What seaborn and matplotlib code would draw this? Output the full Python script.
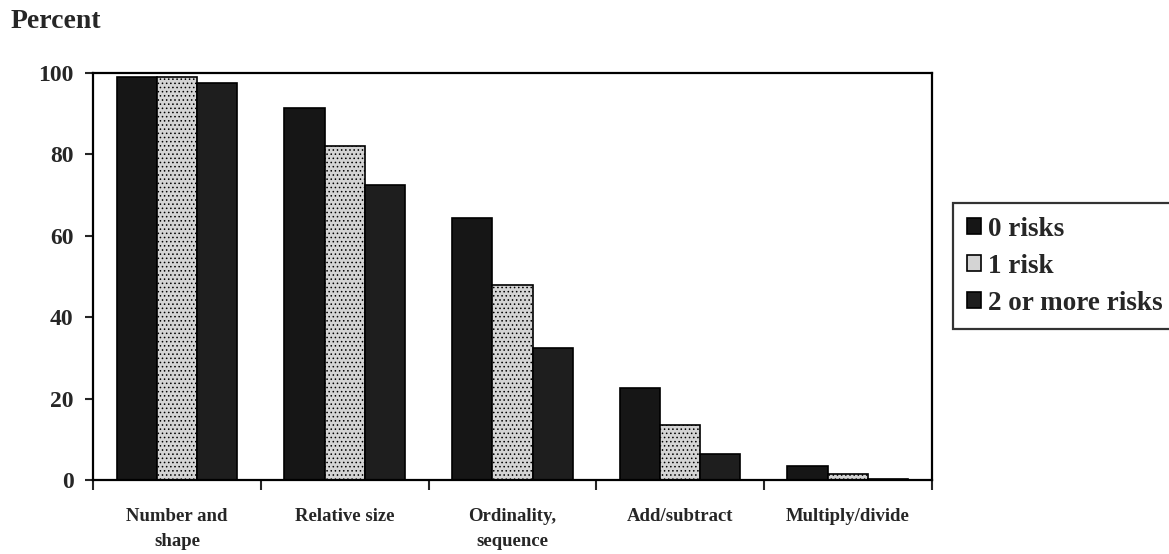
import pandas as pd
import numpy as np
import matplotlib
matplotlib.use("Agg")
import matplotlib.pyplot as plt
import seaborn as sns

# --- data ---
skills = ["Number and\nshape", "Relative size", "Ordinality,\nsequence", "Add/subtract", "Multiply/divide"]
risk_groups = ["0 risks", "1 risk", "2 or more risks"]
zero_risks = [99, 91.5, 64.5, 22.5, 3.5]
one_risk = [99, 82, 48, 13.5, 1.5]
two_plus_risks = [97.5, 72.5, 32.5, 6.5, 0.3]

df = pd.DataFrame({
    "skill": skills * 3,
    "group": [g for g in risk_groups for _ in skills],
    "percent": zero_risks + one_risk + two_plus_risks,
})

sns.set_style("white")
plt.rcParams["font.family"] = ["Liberation Serif", "DejaVu Serif"]
plt.rcParams["font.weight"] = "bold"
plt.rcParams["hatch.linewidth"] = 0.6

palette = {"0 risks": "#161616", "1 risk": "#d4d4d4", "2 or more risks": "#1e1e1e"}

fig = plt.figure(figsize=(11.69, 5.54), dpi=100)
ax = fig.add_axes([0.0796, 0.1336, 0.7174, 0.7344])

sns.barplot(data=df, x="skill", y="percent", hue="group", hue_order=risk_groups,
            palette=palette, width=0.72, gap=0, edgecolor="black", linewidth=1.2,
            saturation=1, ax=ax)

# speckled look of the light bars
for bar in ax.containers[1]:
    bar.set_hatch("....")

ax.set_ylim(0, 100)
ax.set_xlim(-0.5, len(skills) - 0.5)
ax.set_yticks([0, 20, 40, 60, 80, 100])
ax.set_xlabel("")
ax.set_ylabel("")
for s in ax.spines.values():
    s.set_color("black")
    s.set_linewidth(1.6)

ax.tick_params(axis="y", left=True, direction="out", length=6, width=1.5,
               labelsize=17, pad=8)
# category labels without major ticks; ticks sit between groups
ax.tick_params(axis="x", bottom=False, labelsize=13.5, pad=17)
ax.set_xticks(np.arange(-0.5, len(skills)), minor=True)
ax.tick_params(axis="x", which="minor", bottom=True, direction="out", length=7, width=1.5)
for lbl in ax.get_xticklabels() + ax.get_yticklabels():
    lbl.set_fontweight("bold")
    lbl.set_linespacing(1.6)

fig.text(0.009, 0.962, "Percent", fontsize=20, fontweight="bold", va="center", ha="left")

leg = ax.legend(loc="upper left", bbox_to_anchor=(953 / 1169, 1 - 203 / 554),
                bbox_transform=fig.transFigure, frameon=True, fancybox=False,
                prop={"size": 19.5, "weight": "bold"}, handlelength=0.55, handleheight=0.55,
                handletextpad=0.25, borderpad=0.5, labelspacing=0.45, borderaxespad=0)
leg.get_frame().set_edgecolor("black")
leg.get_frame().set_linewidth(1.6)

fig.savefig("out.png", dpi=100, facecolor="white")
